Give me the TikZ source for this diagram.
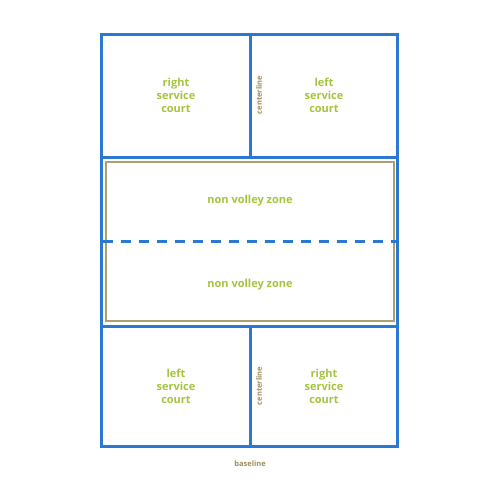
\documentclass[tikz,border=0pt]{standalone}
\usepackage{fontspec}
\setmainfont{Open Sans}
\usetikzlibrary{positioning}
\definecolor{courtblue}{RGB}{42,120,210}
\definecolor{zonegreen}{RGB}{164,196,62}
\definecolor{linebrown}{RGB}{160,140,92}
\definecolor{kitchenline}{RGB}{172,158,112}
\tikzset{
    courtline/.style={courtblue, line width=3pt},
    netline/.style={courtblue, line width=3pt, dash pattern=on 10pt off 8pt},
    zonebox/.style={kitchenline, line width=1.5pt},
    courtlabel/.style={zonegreen, font=\bfseries\fontsize{11}{13}\selectfont, align=center},
    linelabel/.style={linebrown, font=\bfseries\fontsize{7.5}{9}\selectfont}
}
\begin{document}
\begin{tikzpicture}[x=1pt, y=-1pt]
    \useasboundingbox (0, 0) rectangle (500, 500);
    % kitchen
    \draw[zonebox](106, 162) rectangle (394, 321);
    \draw[netline](102.5, 241)--(397, 241);
    % court lines
    \draw[courtline](101, 35) rectangle (397, 446);
    \draw[courtline](101, 157)--(397, 157);
    \draw[courtline](101, 326)--(397, 326);
    \draw[courtline](250, 35)--(250, 157);
    \draw[courtline](250, 326)--(250, 446);
    % labels
    \node[courtlabel] (rsctop) at (176, 95) {right\\service\\court};
    \node[courtlabel] (lsctop) at (324, 95) {left\\service\\court};
    \node[linelabel, rotate=90] (cltop) at (259, 95) {centerline};
    \node[courtlabel] (nvztop) at (250, 201) {non volley zone};
    \node[courtlabel] (nvzbot) at (250, 285) {non volley zone};
    \node[courtlabel] (lscbot) at (176, 386) {left\\service\\court};
    \node[courtlabel] (rscbot) at (324, 386) {right\\service\\court};
    \node[linelabel, rotate=90] (clbot) at (259, 386) {centerline};
    \node[linelabel] (base) at (250, 464) {baseline};
\end{tikzpicture}
\end{document}
